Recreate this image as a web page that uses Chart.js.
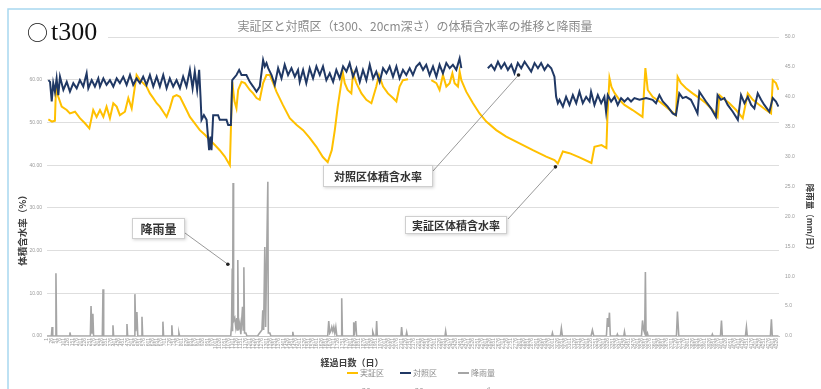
<!DOCTYPE html>
<html>
<head>
<meta charset="utf-8">
<script src="https://cdn.jsdelivr.net/npm/chart.js@4.4.1/dist/chart.umd.min.js"></script>
<style>
  html, body { margin: 0; padding: 0; background: #ffffff; }
  canvas { display: block; }
</style>
</head>
<body>
<canvas id="chart" width="821" height="389"></canvas>
<script>
// Elapsed-time index of each record (hourly rows), values in % (moisture) and mm (rain)
const seriesNames = ['実証区', '対照区', '降雨量'];
const seriesSubNames = ['20cm', '20cm', 'mm/hr'];

// 実証区 (treated plot), volumetric water content at 20 cm, %
const jisshoData = [
  [9,50.7],[31,50.2],[48,50.4],[54,58.0],[68,56.0],[88,53.7],[118,52.9],[137,52.1],[167,52.5],[196,51.0],
  [226,49.8],[252,48.6],[275,52.9],[295,51.3],[315,52.9],[335,51.3],[354,53.7],[374,51.0],[394,54.5],[414,53.7],
  [433,51.7],[463,52.5],[483,55.7],[503,53.3],[522,58.4],[532,61.1],[552,59.9],[571,59.2],[591,58.4],[611,56.8],
  [631,55.7],[651,54.5],[670,53.7],[690,52.5],[710,51.3],[729,53.3],[749,56.0],[769,56.4],[789,56.0],[808,54.5],
  [828,52.9],[848,51.3],[877,49.8],[907,48.2],[937,47.1],[966,45.9],[996,44.7],[1025,43.5],[1055,42.0],[1085,40.0],
  [1099,59.5],[1112,55.0],[1124,53.3],[1134,57.6],[1154,59.5],[1174,59.2],[1203,57.6],[1223,56.8],[1243,55.7],[1262,55.3],
  [1282,59.2],[1302,61.1],[1322,61.1],[1342,59.2],[1361,57.2],[1399,54.1],[1440,51.0],[1481,49.4],[1519,48.2],[1558,46.4],
  [1598,44.3],[1636,41.9],[1665,40.7],[1689,43.5],[1707,48.2],[1724,53.6],[1748,59.9],[1754,61.8],[1766,59.2],[1783,57.6],
  [1805,56.8],[1815,61.5],[1835,59.2],[1865,56.8],[1894,55.3],[1924,54.5],[1953,58.4],[1969,61.1],[1993,58.4],[2022,56.8],
  [2052,55.7],[2072,54.9],[2091,58.4],[2111,59.9],[2141,60.1],[2200,null],[2279,59.9],[2309,59.2],[2328,57.6],[2348,61.1],
  [2368,58.4],[2388,59.2],[2404,61.5],[2417,59.2],[2437,58.4],[2447,61.9],[2457,59.9],[2486,57.2],[2526,54.5],[2565,52.1],
  [2605,50.2],[2664,48.2],[2723,46.7],[2802,45.1],[2881,43.5],[2960,42.0],[3009,41.2],[3029,40.4],[3059,43.2],[3098,42.8],
  [3157,41.8],[3228,40.5],[3246,44.3],[3288,44.7],[3317,44.0],[3323,51.3],[3335,60.4],[3347,58.3],[3365,56.9],[3394,55.3],
  [3424,54.1],[3472,52.9],[3531,51.3],[3548,62.7],[3562,57.6],[3591,56.0],[3631,54.9],[3670,53.7],[3729,51.7],[3739,60.7],
  [3759,59.2],[3789,58.0],[3828,56.8],[3868,55.7],[3907,54.5],[3947,52.9],[3976,51.3],[3987,56.4],[4006,55.7],[4046,54.5],
  [4086,52.9],[4125,51.0],[4155,56.8],[4185,55.3],[4224,54.1],[4263,52.9],[4293,52.1],[4303,59.9],[4322,59.2],[4337,57.6]
];

// 対照区 (control plot), volumetric water content at 20 cm, %
const taishoData = [
  [9,59.9],[19,59.5],[29,54.9],[38,59.2],[48,57.2],[58,60.3],[68,56.4],[78,60.7],[98,57.6],[118,59.5],
  [137,57.2],[157,59.2],[177,58.0],[196,59.9],[216,58.4],[236,61.5],[246,58.0],[266,59.9],[285,58.4],[305,60.3],
  [315,58.4],[335,60.3],[354,58.8],[374,59.9],[394,58.4],[414,60.3],[433,59.2],[453,60.7],[473,58.8],[493,61.1],
  [512,58.8],[532,60.3],[552,59.2],[571,60.7],[591,58.8],[611,61.1],[631,58.4],[651,60.7],[670,58.4],[690,61.1],
  [710,58.0],[729,60.3],[749,58.4],[769,59.9],[789,58.0],[808,60.7],[828,58.4],[848,62.3],[864,58.0],[877,61.9],
  [891,57.6],[903,62.3],[911,56.0],[917,50.6],[931,51.7],[947,50.6],[956,46.3],[962,43.5],[970,46.7],[976,43.5],
  [986,51.7],[1015,51.7],[1025,50.6],[1065,50.6],[1075,49.4],[1091,49.4],[1099,59.9],[1124,61.1],[1140,62.3],[1154,61.1],
  [1183,61.1],[1203,59.5],[1223,58.4],[1243,57.2],[1262,58.4],[1282,64.6],[1292,63.1],[1302,63.9],[1312,62.7],[1332,61.1],
  [1351,58.8],[1371,62.7],[1391,60.3],[1410,63.5],[1430,61.1],[1450,62.7],[1470,60.7],[1489,62.3],[1499,59.5],[1519,62.3],
  [1538,59.2],[1558,62.7],[1578,60.3],[1598,63.1],[1618,61.1],[1637,63.1],[1657,59.9],[1677,61.5],[1697,59.5],[1716,62.3],
  [1736,60.3],[1756,63.1],[1776,61.9],[1795,63.9],[1815,60.7],[1835,62.7],[1855,59.5],[1874,62.3],[1894,59.9],[1914,63.5],
  [1934,60.3],[1953,61.9],[1973,59.5],[1993,62.7],[2013,61.5],[2032,63.1],[2052,60.7],[2072,63.1],[2091,60.3],[2111,62.3],
  [2131,61.1],[2151,62.7],[2170,61.1],[2190,63.1],[2210,63.9],[2230,62.3],[2249,63.5],[2269,61.1],[2289,63.1],[2309,60.7],
  [2328,63.5],[2348,61.5],[2368,63.9],[2388,62.7],[2407,63.5],[2427,62.3],[2447,65.0],[2457,62.7],[2530,null],[2614,62.7],
  [2634,63.5],[2654,62.3],[2674,64.2],[2693,62.7],[2713,63.9],[2733,62.3],[2753,63.5],[2772,61.5],[2792,63.9],[2812,62.7],
  [2832,64.2],[2851,63.1],[2871,61.9],[2891,63.9],[2911,62.7],[2930,63.9],[2950,62.3],[2970,63.5],[2990,62.7],[3009,60.7],
  [3019,56.0],[3029,54.5],[3039,55.3],[3059,53.7],[3078,56.0],[3098,54.1],[3118,56.4],[3138,54.5],[3157,57.2],[3177,54.5],
  [3197,56.0],[3217,54.9],[3226,57.2],[3246,54.1],[3266,56.4],[3286,54.5],[3305,56.0],[3315,52.5],[3325,56.4],[3345,54.9],
  [3365,56.0],[3384,54.1],[3404,55.7],[3424,54.9],[3444,55.7],[3463,54.9],[3483,55.7],[3513,55.3],[3552,55.7],[3591,55.3],
  [3611,54.5],[3631,56.4],[3651,54.9],[3680,53.7],[3710,52.1],[3729,51.7],[3749,56.8],[3769,55.7],[3789,56.0],[3818,55.3],
  [3838,53.7],[3857,52.1],[3868,57.2],[3888,56.0],[3907,54.9],[3937,53.3],[3966,51.3],[3976,56.4],[3996,55.3],[4016,55.7],
  [4036,54.1],[4066,52.5],[4096,50.6],[4115,56.4],[4135,54.5],[4155,56.0],[4175,54.1],[4194,53.3],[4214,56.8],[4234,55.3],
  [4253,54.1],[4283,52.5],[4303,55.7],[4322,54.9],[4337,53.7]
];

// 降雨量 (rainfall), mm
const rainData = [
  [1,0],[27,0],[31,1.5],[35,0],[50,0],[54,10.5],[58,0],[133,0],[137,0.6],[141,0],
  [258,0],[262,5.0],[268,0.5],[273,3.7],[277,0],[329,0],[333,7.8],[337,0],[388,0],[392,1.8],
  [396,0],[471,0],[475,2.0],[479,0],[518,0],[522,7.0],[527,0.8],[534,4.0],[539,0],[560,0],
  [564,3.2],[568,0],[684,0],[688,2.4],[692,0],[737,0],[741,1.8],[745,0],[779,0],[783,0.5],
  [787,0],[1090,0],[1095,1.8],[1099,11.3],[1101,0.8],[1104,25.6],[1107,2.5],[1114,3.0],[1120,1.5],[1126,3.0],
  [1129,1.0],[1132,12.7],[1136,1.0],[1144,2.2],[1150,0.3],[1160,4.9],[1164,1.0],[1168,11.5],[1172,0.5],[1180,0.5],
  [1186,0],[1250,0],[1256,0.3],[1275,1.0],[1280,4.3],[1285,1.0],[1292,14.9],[1297,1.5],[1310,25.8],[1313,0.5],
  [1322,0.5],[1328,0],[1454,0],[1458,0.7],[1462,0],[1665,0],[1671,2.5],[1677,0.5],[1683,0.8],[1689,1.5],
  [1695,0.8],[1701,1.5],[1707,0.5],[1713,1.5],[1719,0],[1744,0],[1748,6.3],[1752,0],[1815,0],[1819,2.3],
  [1825,1.0],[1831,2.5],[1836,0],[1928,0],[1932,0.7],[1940,0],[1951,0],[1955,2.5],[1959,0],[2099,0],
  [2103,1.5],[2108,0],[2129,0],[2133,0.6],[2137,0],[2360,0],[2364,0.8],[2368,0],[2993,0],[2997,0.5],
  [3001,0],[3044,0],[3050,1.3],[3056,0],[3226,0],[3234,1.0],[3242,0],[3317,0],[3323,3.0],[3329,1.5],
  [3335,3.9],[3340,0],[3378,0],[3382,0.3],[3386,0],[3420,0],[3424,0.7],[3428,0],[3525,0],[3531,2.6],
  [3538,1.0],[3544,0.5],[3548,10.7],[3552,0],[3556,0],[3560,0.5],[3564,0],[3732,0],[3738,4.1],[3746,0],
  [3941,0],[3945,0.3],[3949,0],[3993,0],[3999,2.6],[4004,0],[4141,0],[4147,1.5],[4152,0],[4289,0],
  [4295,2.8],[4300,0],[4337,0]
];

// Bottom axis tick labels: every 25th record
const xTickLabels = [];
for (let d = 1; d <= 4326; d += 25) xTickLabels.push(d);

const chartTitle = '実証区と対照区（t300、20cm深さ）の体積含水率の推移と降雨量';
const plotTag = 't300';
const leftAxisTitle = '体積含水率（%）';
const rightAxisTitle = '降雨量（mm/日）';
const bottomAxisTitle = '経過日数（日）';

// Callout labels pointing at a spot on a series
const callouts = [
  { text: '対照区体積含水率', axis: 'y',  at: [2796, 61.1], box: [323, 165, 110, 22], from: [433, 171], size: 11 },
  { text: '実証区体積含水率', axis: 'y',  at: [3015, 39.6], box: [405, 216, 102, 18], from: [508, 219], size: 11 },
  { text: '降雨量',           axis: 'y2', at: [1073, 12.0], box: [132, 218, 53, 21],  from: [185, 233], size: 12 }
];

const COLORS = { jissho: '#FFC000', taisho: '#203864', rain: '#A5A5A5' };
const JP = '"Noto Sans CJK JP", "Noto Sans", sans-serif';

const toXY = arr => arr.map(([x, y]) => ({ x, y }));

const decor = {
  id: 'decor',
  beforeDraw(chart) {
    const c = chart.ctx;
    c.save();
    c.fillStyle = '#ffffff';
    c.fillRect(0, 0, chart.width, chart.height);
    c.restore();
  },
  afterDraw(chart) {
    const c = chart.ctx;
    const sx = chart.scales.x;
    c.save();

    // frame lines
    c.strokeStyle = '#a8d8f0';
    c.lineWidth = 1.5;
    c.beginPath();
    c.moveTo(8, chart.height);
    c.lineTo(8, 9);
    c.lineTo(chart.width, 9);
    c.stroke();

    // chart title
    c.fillStyle = '#8a8a8a';
    c.font = '12px ' + JP;
    c.textAlign = 'center';
    c.textBaseline = 'middle';
    c.fillText(chartTitle, 415, 26);

    // plot tag
    c.fillStyle = '#ffffff';
    c.fillRect(24, 12, 84, 32);
    c.fillStyle = '#111111';
    c.textAlign = 'left';
    c.textBaseline = 'alphabetic';
    c.font = '21px ' + JP;
    c.fillText('○', 27, 40);
    c.font = '26px "Liberation Serif", "DejaVu Serif", serif';
    c.fillText(plotTag, 51, 40);

    // axis titles
    c.fillStyle = '#404040';
    c.textAlign = 'center';
    c.textBaseline = 'middle';
    c.font = 'bold 9.5px ' + JP;
    c.save();
    c.translate(22, 228);
    c.rotate(-Math.PI / 2);
    c.fillText(leftAxisTitle, 0, 0);
    c.restore();
    c.save();
    c.font = 'bold 8.5px ' + JP;
    c.translate(810, 219);
    c.rotate(Math.PI / 2);
    c.fillText(rightAxisTitle, 0, 0);
    c.restore();
    c.font = 'bold 9px ' + JP;
    c.fillText(bottomAxisTitle, 352, 363);

    // callouts
    callouts.forEach(co => {
      const px = sx.getPixelForValue(co.at[0]);
      const py = chart.scales[co.axis].getPixelForValue(co.at[1]);
      c.strokeStyle = '#7f7f7f';
      c.lineWidth = 0.8;
      c.beginPath();
      c.moveTo(co.from[0], co.from[1]);
      c.lineTo(px, py);
      c.stroke();
      c.fillStyle = '#222222';
      c.beginPath();
      c.arc(px, py, 1.8, 0, Math.PI * 2);
      c.fill();
      const [bx, by, bw, bh] = co.box;
      c.save();
      c.shadowColor = 'rgba(0,0,0,0.18)';
      c.shadowBlur = 3;
      c.shadowOffsetX = 1;
      c.shadowOffsetY = 1;
      c.fillStyle = '#ffffff';
      c.fillRect(bx, by, bw, bh);
      c.restore();
      c.strokeStyle = '#cfcfcf';
      c.lineWidth = 1;
      c.strokeRect(bx + 0.5, by + 0.5, bw - 1, bh - 1);
      c.fillStyle = '#333333';
      c.font = 'bold ' + co.size + 'px ' + JP;
      c.textAlign = 'center';
      c.textBaseline = 'middle';
      c.fillText(co.text, bx + bw / 2, by + bh / 2 + 0.5);
    });

    // legend
    const legendX = [347, 400, 458];
    chart.data.datasets.forEach((ds, i) => {
      const lx = legendX[i];
      c.strokeStyle = ds.borderColor;
      c.lineWidth = 2;
      c.beginPath();
      c.moveTo(lx, 373);
      c.lineTo(lx + 11, 373);
      c.stroke();
      c.fillStyle = '#8c8c8c';
      c.font = '8px ' + JP;
      c.textAlign = 'left';
      c.textBaseline = 'middle';
      c.fillText(ds.label, lx + 13, 373);
      const w = c.measureText(ds.label).width;
      c.textAlign = 'center';
      c.textBaseline = 'alphabetic';
      c.fillText(seriesSubNames[i], lx + 13 + w / 2, 394);
    });

    c.restore();
  }
};

new Chart(document.getElementById('chart'), {
  type: 'line',
  data: {
    datasets: [
      { label: seriesNames[0], data: toXY(jisshoData), borderColor: COLORS.jissho, borderWidth: 2,
        pointRadius: 0, yAxisID: 'y', order: 1, spanGaps: false },
      { label: seriesNames[1], data: toXY(taishoData), borderColor: COLORS.taisho, borderWidth: 2,
        pointRadius: 0, yAxisID: 'y', order: 0, spanGaps: false },
      { label: seriesNames[2], data: toXY(rainData), borderColor: COLORS.rain, borderWidth: 1.6,
        pointRadius: 0, yAxisID: 'y2', order: 2 }
    ]
  },
  options: {
    responsive: false,
    animation: false,
    events: [],
    layout: { padding: { top: 37, left: 0, right: 0, bottom: 0 } },
    plugins: { legend: { display: false }, title: { display: false }, tooltip: { enabled: false } },
    scales: {
      x: {
        type: 'linear', min: 1, max: 4340,
        afterBuildTicks: s => { s.ticks = xTickLabels.map(v => ({ value: v })); },
        afterFit: s => { s.height = 53; },
        ticks: { autoSkip: false, minRotation: 90, maxRotation: 90, padding: 2,
                 font: { size: 5, family: 'Liberation Sans' }, color: '#9a9a9a',
                 callback: v => String(v) },
        grid: { display: false, drawTicks: false },
        border: { color: '#c4c4c4', width: 1 }
      },
      y: {
        position: 'left', min: 0, max: 70,
        afterFit: s => { s.width = 47; },
        ticks: { stepSize: 10, padding: 5, font: { size: 5, family: 'Liberation Sans' }, color: '#9a9a9a',
                 callback: v => Number(v).toFixed(2) },
        grid: { color: '#dedede', lineWidth: 1, drawTicks: false },
        border: { display: false }
      },
      y2: {
        position: 'right', min: 0, max: 50,
        afterFit: s => { s.width = 42; },
        ticks: { stepSize: 5, padding: 6, font: { size: 5, family: 'Liberation Sans' }, color: '#9a9a9a',
                 callback: v => Number(v).toFixed(1) },
        grid: { display: false, drawTicks: false },
        border: { display: false }
      }
    }
  },
  plugins: [decor]
});
</script>
</body>
</html>
